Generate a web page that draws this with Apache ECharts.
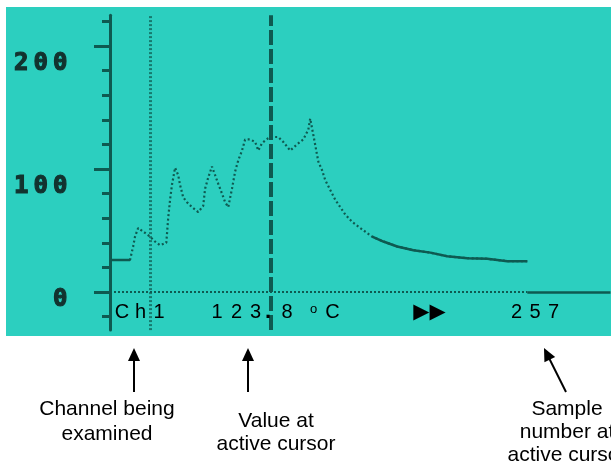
<!DOCTYPE html>
<html>
<head>
<meta charset="utf-8">
<script src="https://cdn.jsdelivr.net/npm/echarts@6/dist/echarts.min.js"></script>
<style>
html,body{margin:0;padding:0;background:#fff;}
#chart{width:611px;height:467px;}
</style>
</head>
<body>
<div id="chart"></div>
<script>
const samples = [3,32,37,40,45,56,64,72,80,90,93,96,99,104,109,112,117,123,131,141,149,152,157,163,168,173,179,184,189,195,200,205,211,216,224,232,237,243,253,259,269,277,288,299,309,317,320,326,333,339,344,352,360,368,376,387,400,419,437,459,485,512,539,571,603,635,667];
const values  = [26,26,37,45,52,48,45,41,38,40,60,75,87,101,95,87,77,73,69,65,70,84,93,102,95,88,80,73,69,84,98,107,115,124,124,122,115,121,125,126,126,122,115,120,124,132,141,125,106,99,91,83,75,69,63,57,52,45,41,37,34,32,29,27.5,27,25,25];
const yMajorTicks = [0,100,200];
const yMinorTicks = [-20,0,20,40,60,80,100,120,140,160,180,200,220];
const channelCursor = 64;      // sample at channel cursor
const activeCursor = 257;      // sample at active cursor
const readChannel = 'Ch1';
const readValue = '123.8';
const readUnit = 'C';
const readSample = '257';
const captions = [
  ['Channel being','examined'],
  ['Value at','active cursor'],
  ['Sample','number at','active cursor']
];

const teal = '#2ccfbf';
const dark = '#0e5a51';
const labelCol = '#12332f';

const pts = samples.map((s,i)=>[s,values[i]]);
const tailStart = samples.indexOf(419);
const lastSample = samples[samples.length-1];

const chart = echarts.init(document.getElementById('chart'), null, {renderer:'canvas'});

// readout glyph placements (layout only)
const txt = (t,x,y,o={}) => ({type:'text', zlevel:1, z:100, style:Object.assign({text:t,x:x,y:y,align:'center',verticalAlign:'middle',fill:'#000',font:'20px "Liberation Sans", Arial, sans-serif'},o)});
const g = [];
g.push({type:'rect', z:-100, shape:{x:6,y:7,width:605,height:329}, style:{fill:teal}});
[122,140.5,159].forEach((cx,i)=>g.push(txt(readChannel[i],cx,312)));
[217,236.5,255.5,268,287].forEach((cx,i)=>g.push(txt(readValue[i],cx,312, readValue[i]==='.'?{font:'bold 22px "Liberation Sans", Arial, sans-serif'}:{})));
g.push(txt('o',313.5,309,{font:'13px "Liberation Sans", Arial, sans-serif'}));
g.push(txt(readUnit,332.5,312));
g.push(txt('\u25B6\u25B6',429.5,313,{font:'21px "DejaVu Sans", sans-serif'}));
[516.5,535,553.5].forEach((cx,i)=>g.push(txt(readSample[i],cx,312)));

// arrows
function arrow(x1,y1,x2,y2){ // tail (x1,y1) -> tip (x2,y2)
  const dx=x2-x1, dy=y2-y1, L=Math.hypot(dx,dy), ux=dx/L, uy=dy/L;
  const hl=13, hw=6;
  const bx=x2-ux*hl, by=y2-uy*hl;
  g.push({type:'line', zlevel:1, shape:{x1:x1,y1:y1,x2:bx+ux*1,y2:by+uy*1}, style:{stroke:'#000',lineWidth:2}});
  g.push({type:'polygon', zlevel:1, shape:{points:[[x2,y2],[bx-uy*hw,by+ux*hw],[bx+uy*hw,by-ux*hw]]}, style:{fill:'#000'}});
}
arrow(134,392,134,348);
arrow(248,392,248,348);
arrow(566,392,544,348);

const capFont = '21px "Liberation Sans", Arial, sans-serif';
const capPos = [[107,[409,434]],[276,[421,444]],[567,[409,432,455]]];
captions.forEach((lines,k)=>{
  lines.forEach((ln,j)=>g.push(txt(ln,capPos[k][0],capPos[k][1][j],{font:capFont})));
});

const yMin=-31, yMax=225;
const lblStyle = {width:19.5,align:'center',fontSize:24,fontWeight:'bold',fontFamily:'"DejaVu Sans Mono", monospace',color:labelCol,textBorderColor:labelCol,textBorderWidth:1.2};

const option = {
  animation:false,
  backgroundColor:'#ffffff',
  graphic:g,
  grid:{left:110,right:0.5,top:15.25,bottom:136.9},
  xAxis:{type:'value',min:0,max:800,show:false},
  yAxis:[
    {type:'value',min:yMin,max:yMax,position:'left',
     axisLine:{show:true,lineStyle:{color:dark,width:3}},
     axisTick:{show:true,customValues:yMinorTicks,length:8,lineStyle:{color:dark,width:3}},
     axisLabel:{show:false},splitLine:{show:false}},
    {type:'value',min:yMin,max:yMax,position:'left',
     axisLine:{show:false},
     axisTick:{show:true,customValues:yMajorTicks,length:16,lineStyle:{color:dark,width:3}},
     axisLabel:{show:true,customValues:yMajorTicks,margin:40,
       formatter:v=>{const c=v===0?'b':'a';return String(v).split('').map(ch=>'{'+c+'|'+ch+'}').join('');},
       rich:{
         a:Object.assign({},lblStyle,{padding:[36,0,0,0]}),
         b:Object.assign({},lblStyle,{padding:[15,0,0,0]})
       }},
     splitLine:{show:false}}
  ],
  series:[
    {type:'line',name:'trace',data:pts,showSymbol:false,smooth:false,
     lineStyle:{color:dark,width:2.2,type:[2,2.5]},z:5,
     markLine:{silent:true,symbol:'none',label:{show:false},
       data:[
         {xAxis:channelCursor,lineStyle:{color:'#167a6e',width:3,type:[2,2]}},
         {xAxis:activeCursor,lineStyle:{color:dark,width:4,type:[15,4]}},
         [{coord:[0,0],lineStyle:{color:dark,width:2,type:[2,2]}},{coord:[lastSample,0]}],
         [{coord:[lastSample,0],lineStyle:{color:dark,width:2.5,type:'solid'}},{coord:[800,0]}]
       ]}},
    {type:'line',name:'tail',data:pts.slice(tailStart),showSymbol:false,
     lineStyle:{color:dark,width:2.5,type:'solid'},z:6},
    {type:'line',name:'start',data:pts.slice(0,2),showSymbol:false,
     lineStyle:{color:dark,width:2.5,type:'solid'},z:6}
  ]
};
chart.setOption(option);
</script>
</body>
</html>
